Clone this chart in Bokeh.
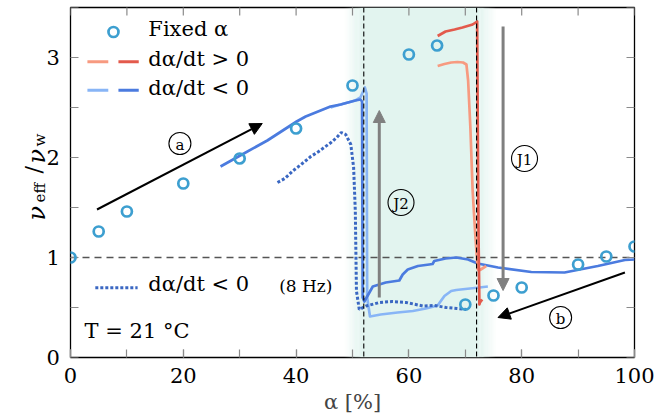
import numpy as np
from bokeh.plotting import figure
from bokeh.layouts import row
from bokeh.models import (Range1d, FixedTicker, Span, Label, Arrow, NormalHead,
                          ColumnDataSource)
from bokeh.core.properties import value
from bokeh.embed import file_html
from bokeh.resources import INLINE

# ---------------- data ----------------
fixed_alpha = [0, 5, 10, 20, 30, 40, 50, 60, 65, 70, 75, 80, 90, 95, 100]
fixed_nu = [1.00, 1.26, 1.46, 1.74, 1.99, 2.29, 2.72, 3.03, 3.12, 0.53, 0.62, 0.70, 0.93, 1.01, 1.11]

inc_light_alpha = [65.1, 66.3, 67.5, 68.6, 69.6, 70.2, 70.5, 70.9, 71.3, 71.8, 72.2, 72.6, 73.7]
inc_light_nu = [2.915, 2.935, 2.95, 2.955, 2.95, 2.93, 2.77, 2.30, 1.67, 1.20, 0.88, 0.875, 0.915]

inc_dark_alpha = [65.1, 66.5, 68.1, 69.5, 71.3, 72.1, 72.2, 72.35, 72.5, 72.6, 73.0]
inc_dark_nu = [3.215, 3.26, 3.28, 3.30, 3.33, 3.36, 2.40, 1.20, 0.53, 0.55, 0.58]

dec_light_alpha = [46.1, 47.9, 50.5, 51.4, 52.2, 52.5, 52.6, 53.1, 55.0, 58.0, 60.7, 63.0, 65.1,
                   65.6, 66.3, 67.5, 68.4, 70.0, 72.5, 74.0]
dec_light_nu = [2.50, 2.53, 2.57, 2.60, 2.70, 2.64, 0.60, 0.41, 0.43, 0.45, 0.465, 0.49, 0.52,
                0.56, 0.615, 0.665, 0.675, 0.685, 0.70, 0.71]

dec_dark_alpha = [26.6, 30.1, 34.9, 40.1, 41.7, 46.1, 47.9, 50.5, 51.4, 51.7, 51.8, 52.1, 53.6,
                  55.9, 58.3, 58.9, 59.8, 61.6, 63.6, 64.2, 64.5, 66.5, 68.4, 70.5, 72.2, 75.8,
                  81.7, 87.6, 93.5, 98.3, 100.0]
dec_dark_nu = [1.91, 2.02, 2.17, 2.36, 2.41, 2.51, 2.53, 2.57, 2.58, 2.56, 0.60, 0.56, 0.71,
               0.75, 0.77, 0.83, 0.88, 0.915, 0.93, 0.935, 0.965, 0.99, 1.00, 0.98, 0.94, 0.90,
               0.855, 0.85, 0.915, 0.975, 0.98]

dec8_alpha = [36.7, 38.0, 39.5, 40.9, 42.6, 44.0, 46.2, 47.2, 48.0, 48.8, 49.7, 50.2, 50.5, 50.7,
              51.2, 52.4, 54.8, 57.0, 59.5, 62.5, 64.5, 66.6, 68.5, 70.2]
dec8_nu = [1.75, 1.79, 1.87, 1.93, 2.01, 2.06, 2.15, 2.20, 2.25, 2.23, 2.13, 1.90, 1.46, 0.665,
           0.48, 0.515, 0.55, 0.56, 0.55, 0.515, 0.52, 0.50, 0.49, 0.48]

x_ticks = [0, 20, 40, 60, 80, 100]
x_minor = [0, 10, 20, 30, 40, 50, 60, 70, 80, 90, 100]
y_ticks = [0, 1, 2, 3]
y_minor = [0, 0.5, 1, 1.5, 2, 2.5, 3, 3.5]
X_MIN, X_MAX, Y_MIN, Y_MAX = 0, 100, 0, 3.5

jump_alpha = [52, 72]          # vertical dashed lines
ref_level = 1.0                 # horizontal dashed line
band_core = (51.5, 72.5)        # shaded band
band_fade = 3.0

# arrows: (x_start, y_start, x_end, y_end)
arrow_a = (4.7, 1.48, 34.0, 2.34)
arrow_b = (98.3, 0.85, 75.8, 0.40)
arrow_j2 = (54.75, 0.60, 54.75, 2.47)
arrow_j1 = (76.7, 3.31, 76.7, 0.67)

# y-axis title pieces: text, size, style, baseline x (px in strip), start y (data units)
ylab_text = ["ν", "eff", "/", "ν", "w"]
ylab_size = ["24px", "15px", "22px", "24px", "15px"]
ylab_style = ["italic", "normal", "normal", "italic", "normal"]
ylab_bx = [36, 39, 33, 36, 39]
ylab_y = [1.37, 1.55, 1.84, 1.94, 2.11]

# ---------------- colours ----------------
C_FIX = "#3d9fd0"
C_INC_L = "#f79a80"
C_INC_D = "#e35a4c"
C_DEC_L = "#88b5f6"
C_DEC_D = "#4b7bdf"
C_DEC_8 = "#3a67c2"
C_BAND = "#e2f4ef"
C_GRAY = "#808080"
C_TICK = "#8a8a8a"
FONT = "DejaVu Serif"

W, H, STRIP_W = 654, 418, 62
B_TOP, B_BOTTOM, B_LEFT, B_RIGHT = 7, 61, 8, 20

yr = Range1d(Y_MIN, Y_MAX)

# ---------- left strip: y tick labels (axis) and y-axis title ----------
ylab = figure(width=STRIP_W, height=H, x_range=Range1d(0, 1), y_range=yr,
              output_backend="svg", toolbar_location=None, x_axis_type=None,
              y_axis_location="right", min_border_left=0, min_border_right=0,
              min_border_top=B_TOP, min_border_bottom=B_BOTTOM)
ylab.outline_line_color = None
ylab.grid.visible = False
yax = ylab.yaxis[0]
yax.ticker = FixedTicker(ticks=y_ticks, minor_ticks=[])
yax.axis_line_color = None
yax.major_tick_line_color = None
yax.minor_tick_line_color = None
yax.major_tick_in = 0
yax.major_tick_out = 0
yax.minor_tick_in = 0
yax.minor_tick_out = 0
yax.major_label_standoff = 0
yax.major_label_text_font = FONT
yax.major_label_text_font_size = "21px"
yax.major_label_text_color = "black"

for t, s, st, bx, yy in zip(ylab_text, ylab_size, ylab_style, ylab_bx, ylab_y):
    ylab.add_layout(Label(x=bx, x_units="screen", y=yy, text=t, angle=np.pi / 2,
                          text_align="left", text_baseline="alphabetic", text_font=FONT,
                          text_font_size=s, text_font_style=st, text_color="black"))

# ---------- main plot ----------
p = figure(width=W - STRIP_W, height=H, x_range=Range1d(X_MIN, X_MAX),
           y_range=yr, y_axis_type=None,
           output_backend="svg", toolbar_location=None,
           min_border_left=B_LEFT, min_border_right=B_RIGHT, min_border_top=B_TOP,
           min_border_bottom=B_BOTTOM)
p.grid.visible = False
p.outline_line_color = "black"
p.outline_line_width = 1.3

ax = p.xaxis[0]
ax.ticker = FixedTicker(ticks=x_ticks, minor_ticks=x_minor)
ax.axis_line_color = None
ax.major_tick_in = 8
ax.major_tick_out = 0
ax.minor_tick_in = 8
ax.minor_tick_out = 0
ax.major_tick_line_color = C_TICK
ax.minor_tick_line_color = C_TICK
ax.major_tick_line_width = 1.2
ax.minor_tick_line_width = 1.2
ax.major_label_text_font = FONT
ax.major_label_text_font_size = "21px"
ax.major_label_text_color = "black"
ax.major_label_standoff = 10
ax.axis_label = "α [%]"
ax.axis_label_text_font = FONT
ax.axis_label_text_font_size = "21px"
ax.axis_label_text_font_style = "normal"
ax.axis_label_standoff = 4

# ticks on the top, left and right edges (half of each dash is clipped by the frame)
p.scatter(x_minor, [Y_MAX] * len(x_minor), marker="dash", size=16, angle=np.pi / 2,
          line_color=C_TICK, line_width=1.2)
p.scatter([X_MAX] * len(y_minor), y_minor, marker="dash", size=16,
          line_color=C_TICK, line_width=1.2)
p.scatter([X_MIN] * len(y_minor), y_minor, marker="dash", size=16,
          line_color=C_TICK, line_width=1.2)

# shaded band with soft edges
n = 14
lo, hi = band_core
edges_l = np.linspace(lo - band_fade, lo, n + 1)
edges_r = np.linspace(hi, hi + band_fade, n + 1)
alphas = (np.arange(n) + 0.5) / n
band_left = list(edges_l[:-1]) + [lo] + list(edges_r[:-1])
band_right = list(edges_l[1:]) + [hi] + list(edges_r[1:])
band_alpha = list(alphas) + [1.0] + list(alphas[::-1])
p.quad(left=band_left, right=band_right, bottom=Y_MIN, top=Y_MAX, fill_color=C_BAND,
       fill_alpha=band_alpha, line_color=None, level="underlay")

p.add_layout(Span(location=ref_level, dimension="width", line_color="#555555",
                  line_dash="7 5", line_width=1.3, level="underlay"))

# data lines
p.line(dec_light_alpha, dec_light_nu, line_color=C_DEC_L, line_width=2.7, line_join="round")
p.line(dec_dark_alpha, dec_dark_nu, line_color=C_DEC_D, line_width=2.7, line_join="round")
p.line(dec8_alpha, dec8_nu, line_color=C_DEC_8, line_width=3, line_dash="3 2")
p.line(inc_light_alpha, inc_light_nu, line_color=C_INC_L, line_width=2.7, line_join="round")
p.line(inc_dark_alpha, inc_dark_nu, line_color=C_INC_D, line_width=2.7, line_join="round")

for loc in jump_alpha:
    p.add_layout(Span(location=loc, dimension="height", line_color="black",
                      line_dash="5 3", line_width=1.1))

p.scatter(fixed_alpha, fixed_nu, marker="circle", size=10, fill_color=None,
          line_color=C_FIX, line_width=2.7)

# arrows
def add_arrow(a, color, width, head):
    p.add_layout(Arrow(end=NormalHead(size=head, fill_color=color, line_color=color),
                       x_start=a[0], y_start=a[1], x_end=a[2], y_end=a[3],
                       line_color=color, line_width=width))

add_arrow(arrow_a, "black", 2, 12)
add_arrow(arrow_b, "black", 2, 12)
add_arrow(arrow_j2, C_GRAY, 3, 12)
add_arrow(arrow_j1, C_GRAY, 3, 12)

# circled markers
circ = ColumnDataSource(dict(x=[19.4, 86.9, 58.6, 80.5], y=[2.14, 0.40, 1.55, 1.99],
                             t=["a", "b", "J2", "J1"], s=[22, 22, 26, 26]))
p.scatter("x", "y", source=circ, marker="circle", size="s", fill_color=None,
          line_color="black", line_width=1.1)
p.text("x", "y", text="t", source=circ, text_align="center", text_baseline="middle",
       text_font=value(FONT), text_font_size="15px", y_offset=1)

# legend (manual)
p.scatter([7.62], [3.255], marker="circle", size=10, fill_color=None, line_color=C_FIX, line_width=2.7)
p.segment([3.0], [2.957], [6.7], [2.957], line_color=C_INC_L, line_width=3)
p.segment([8.5], [2.957], [12.1], [2.957], line_color=C_INC_D, line_width=3)
p.segment([3.0], [2.672], [6.7], [2.672], line_color=C_DEC_L, line_width=3)
p.segment([8.5], [2.672], [12.1], [2.672], line_color=C_DEC_D, line_width=3)
p.segment([4.4], [0.697], [11.9], [0.697], line_color=C_DEC_8, line_width=3, line_dash="3 2")

def lab(x, y, text, size="21px", style="normal", **kw):
    p.add_layout(Label(x=x, y=y, text=text, text_font=FONT, text_font_size=size,
                       text_font_style=style, text_color="black", **kw))

lab(13.8, 3.167, "Fixed α")
lab(13.8, 2.87, "dα/dt > 0")
lab(13.8, 2.58, "dα/dt < 0")
lab(13.8, 0.62, "dα/dt < 0")
lab(37.0, 0.62, "(8 Hz)", size="17px")
lab(2.5, 0.148, "T = 21 °C")

layout = row(ylab, p, spacing=0)
open("out.html", "w").write(file_html(layout, INLINE))
